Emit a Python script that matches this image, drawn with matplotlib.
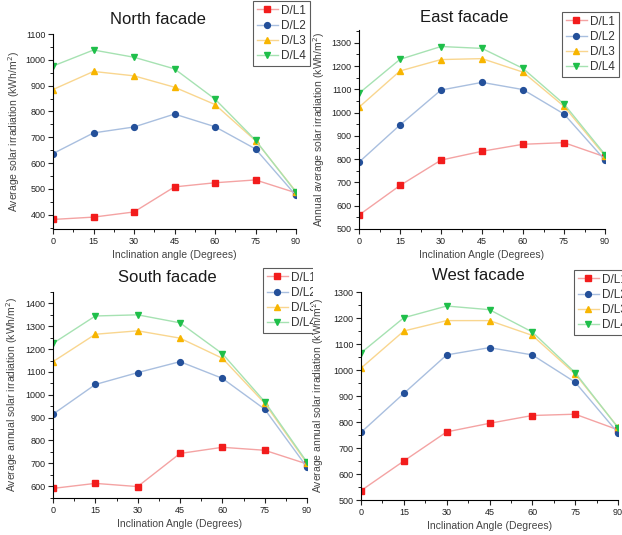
import matplotlib
matplotlib.use('Agg')
import matplotlib.pyplot as plt
from matplotlib.ticker import MultipleLocator
from matplotlib.transforms import Bbox, TransformedBbox

plt.rcParams['font.family'] = ['Liberation Sans', 'DejaVu Sans']

angles = [0, 15, 30, 45, 60, 75, 90]
series_names = ['D/L1', 'D/L2', 'D/L3', 'D/L4']

north_dl1 = [382, 391, 411, 508, 524, 535, 485]
north_dl2 = [637, 717, 740, 790, 741, 655, 475]
north_dl3 = [885, 955, 938, 894, 827, 687, 490]
north_dl4 = [976, 1038, 1010, 965, 848, 689, 487]

east_dl1 = [560, 687, 796, 834, 864, 871, 810]
east_dl2 = [787, 947, 1097, 1130, 1099, 994, 796]
east_dl3 = [1023, 1179, 1228, 1232, 1174, 1027, 814]
east_dl4 = [1083, 1229, 1284, 1276, 1190, 1037, 820]

south_dl1 = [590, 612, 598, 743, 770, 757, 697]
south_dl2 = [915, 1045, 1097, 1145, 1072, 937, 683]
south_dl3 = [1145, 1265, 1280, 1248, 1160, 963, 700]
south_dl4 = [1225, 1345, 1350, 1315, 1180, 970, 705]

west_dl1 = [536, 650, 762, 795, 825, 830, 770]
west_dl2 = [760, 910, 1058, 1086, 1058, 953, 758]
west_dl3 = [1007, 1150, 1190, 1190, 1133, 985, 780]
west_dl4 = [1066, 1201, 1246, 1232, 1146, 990, 778]

marker_colors = ['#f21c1c', '#24509a', '#f7b500', '#1fbf4a']
line_colors = ['#f4a3a3', '#a9bfdf', '#f9d68f', '#a6e2b2']
markers = ['s', 'o', '^', 'v']

W, H = 622, 535
fig = plt.figure(figsize=(W / 100, H / 100), dpi=100)


def panel(box, data, ylim, title, title_xy, xlabel, ylabel, ylabel_x, leg_xy, clip_right=None):
    l, t, r, b = box
    ax = fig.add_axes([l / W, 1 - b / H, (r - l) / W, (b - t) / H])
    handles = []
    for i, ys in enumerate(data):
        h, = ax.plot(angles, ys, color=line_colors[i], lw=1.0, marker=markers[i],
                     markersize=4.2, markerfacecolor=marker_colors[i],
                     markeredgecolor=marker_colors[i], label=series_names[i])
        handles.append(h)
    ax.set_xlim(0, 90)
    ax.set_ylim(*ylim)
    ax.xaxis.set_major_locator(MultipleLocator(15))
    ax.xaxis.set_minor_locator(MultipleLocator(7.5))
    ax.yaxis.set_major_locator(MultipleLocator(100))
    ax.yaxis.set_minor_locator(MultipleLocator(50))
    for s in ['top', 'right']:
        ax.spines[s].set_visible(False)
    for s in ['left', 'bottom']:
        ax.spines[s].set_linewidth(0.8)
    ax.tick_params(which='major', direction='out', length=3.5, width=0.8,
                   labelsize=6.5, colors='#222222', pad=2)
    ax.tick_params(which='minor', direction='out', length=2, width=0.6)
    ax.set_xlabel(xlabel, fontsize=7.5, color='#444444', labelpad=3)
    ax.set_ylabel(ylabel, fontsize=7.5, color='#444444')
    ax.yaxis.set_label_coords((ylabel_x - l) / (r - l), 0.5)
    fig.text(title_xy[0] / W, 1 - title_xy[1] / H, title, fontsize=12,
             ha='center', va='center', color='#1a1a1a')
    leg = fig.legend(handles=handles, loc='upper left',
                     bbox_to_anchor=(leg_xy[0] / W, 1 - leg_xy[1] / H),
                     fontsize=8.5, frameon=True, fancybox=False, edgecolor='#333333',
                     handlelength=1.8, handletextpad=0.3, borderpad=0.3,
                     labelspacing=0.27, borderaxespad=0)
    leg.get_frame().set_linewidth(0.8)
    for txt in leg.get_texts():
        txt.set_color('#333333')
    if clip_right is not None:
        # the south panel was cut off by the west one in the source
        clip = TransformedBbox(Bbox([[0, 0], [clip_right / W, 1]]), fig.transFigure)
        for a in leg.findobj():
            a.set_clip_box(clip)
            a.set_clip_on(True)
    return ax


panel((53, 34, 296, 229), [north_dl1, north_dl2, north_dl3, north_dl4],
      (345, 1100), 'North facade', (158, 20),
      'Inclination angle (Degrees)', 'Average solar irradiation (kWh/m$^2$)', 22,
      (253, 1))
panel((359, 30, 605, 229), [east_dl1, east_dl2, east_dl3, east_dl4],
      (500, 1355), 'East facade', (464, 17),
      'Inclination Angle (Degrees)', 'Annual average solar irradiation (kWh/m$^2$)', 327,
      (562, 12))
panel((53, 292, 307, 498), [south_dl1, south_dl2, south_dl3, south_dl4],
      (548, 1450), 'South facade', (167, 278),
      'Inclination Angle (Degrees)', 'Average annual solar irradiation (kWh/m$^2$)', 20,
      (263, 268), clip_right=313)
panel((361, 292, 618, 500), [west_dl1, west_dl2, west_dl3, west_dl4],
      (500, 1300), 'West facade', (478, 276),
      'Inclination Angle (Degrees)', 'Average annual solar irradiation (kWh/m$^2$)', 326,
      (574, 270))

fig.savefig('out.png', dpi=100)
